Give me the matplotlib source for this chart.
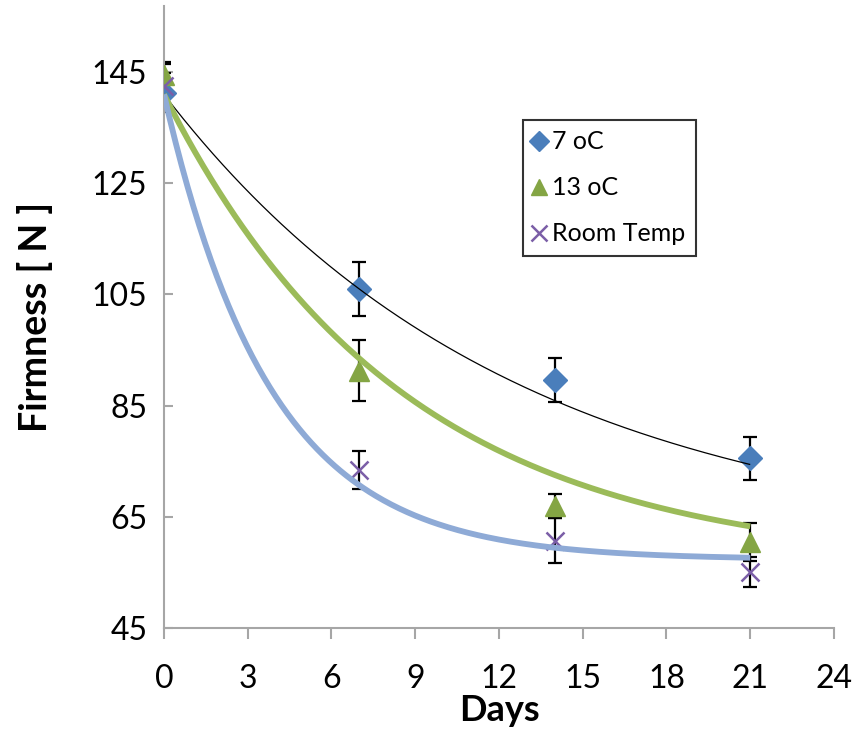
import numpy as np
import matplotlib
matplotlib.use("Agg")
import matplotlib.pyplot as plt

plt.rcParams['font.family'] = ['Lato', 'DejaVu Sans']

# Storage time (days)
days = [0, 7, 14, 21]

# Mean firmness (N) and standard deviations per storage condition
series_names = ["7 oC", "13 oC", "Room Temp"]
firm_7c = [141.3, 106.0, 89.6, 75.5]
err_7c = [3.5, 4.9, 4.0, 3.8]
firm_13c = [144.5, 91.3, 66.9, 60.5]
err_13c = [2.4, 5.5, 2.2, 3.4]
firm_room = [142.6, 73.4, 60.7, 55.1]
err_room = [3.9, 3.4, 4.0, 2.7]

# Fitted decay models  y = asymptote + amplitude * exp(-rate * t)
fit_asymptote = [59.0, 56.0, 57.3]
fit_amplitude = [82.0, 85.0, 83.7]
fit_rate = [0.0796, 0.117, 0.262]

x_ticks = [0, 3, 6, 9, 12, 15, 18, 21, 24]
y_ticks = [45, 65, 85, 105, 125, 145]

fig = plt.figure(figsize=(8.55, 7.35), dpi=100)
ax = fig.add_axes([0.1918, 0.1456, 0.7836, 0.8462])

marker_styles = [
    dict(marker='D', color='#4a7ebb', ms=12, mec='#4a7ebb'),
    dict(marker='^', color='#84a544', ms=14, mec='#84a544'),
    dict(marker='x', color='#7b5ea7', ms=13, mew=1.8),
]
fit_styles = [
    dict(color='black', lw=0.9),
    dict(color='#9bbb59', lw=4.2),
    dict(color='#8eaad6', lw=4.2),
]

all_vals = [firm_7c, firm_13c, firm_room]
all_errs = [err_7c, err_13c, err_room]

for vals, errs in zip(all_vals, all_errs):
    ax.errorbar(days, vals, yerr=errs, fmt='none', ecolor='black',
                elinewidth=1.6, capsize=5, capthick=1.6, zorder=2)

handles = []
for vals, name, st in zip(all_vals, series_names, marker_styles):
    h, = ax.plot(days, vals, linestyle='none', label=name, zorder=3, **st)
    handles.append(h)

t = np.linspace(0, 21, 300)
for a, b, k, st in zip(fit_asymptote, fit_amplitude, fit_rate, fit_styles):
    ax.plot(t, a + b * np.exp(-k * t), zorder=4, solid_capstyle='butt', **st)

ax.set_xlim(0, 24)
ax.set_ylim(45, 156.9)
ax.set_xticks(x_ticks)
ax.set_yticks(y_ticks)

for side in ['top', 'right']:
    ax.spines[side].set_visible(False)
for side in ['left', 'bottom']:
    ax.spines[side].set_color('#a6a6a6')
    ax.spines[side].set_linewidth(1.5)

ax.tick_params(axis='x', direction='out', length=8, width=1.5, color='#a6a6a6',
               labelsize=23, pad=18)
ax.tick_params(axis='y', direction='in', length=6.5, width=1.5, color='#a6a6a6',
               labelsize=23, pad=12)

ax.set_xlabel('Days', fontsize=26, fontweight='bold', labelpad=0)
ax.set_ylabel('Firmness [ N ]', fontsize=27, fontweight='bold', labelpad=28)

leg = ax.legend(handles=handles, loc='upper left', bbox_to_anchor=(0.536, 0.817),
                frameon=True, fancybox=False, fontsize=18, handlelength=0.45,
                handletextpad=0.3, labelspacing=0.92, borderpad=0.42,
                borderaxespad=0, markerscale=0.85)
leg.get_frame().set_edgecolor('black')
leg.get_frame().set_linewidth(1.5)

fig.savefig('out.png', dpi=100)
